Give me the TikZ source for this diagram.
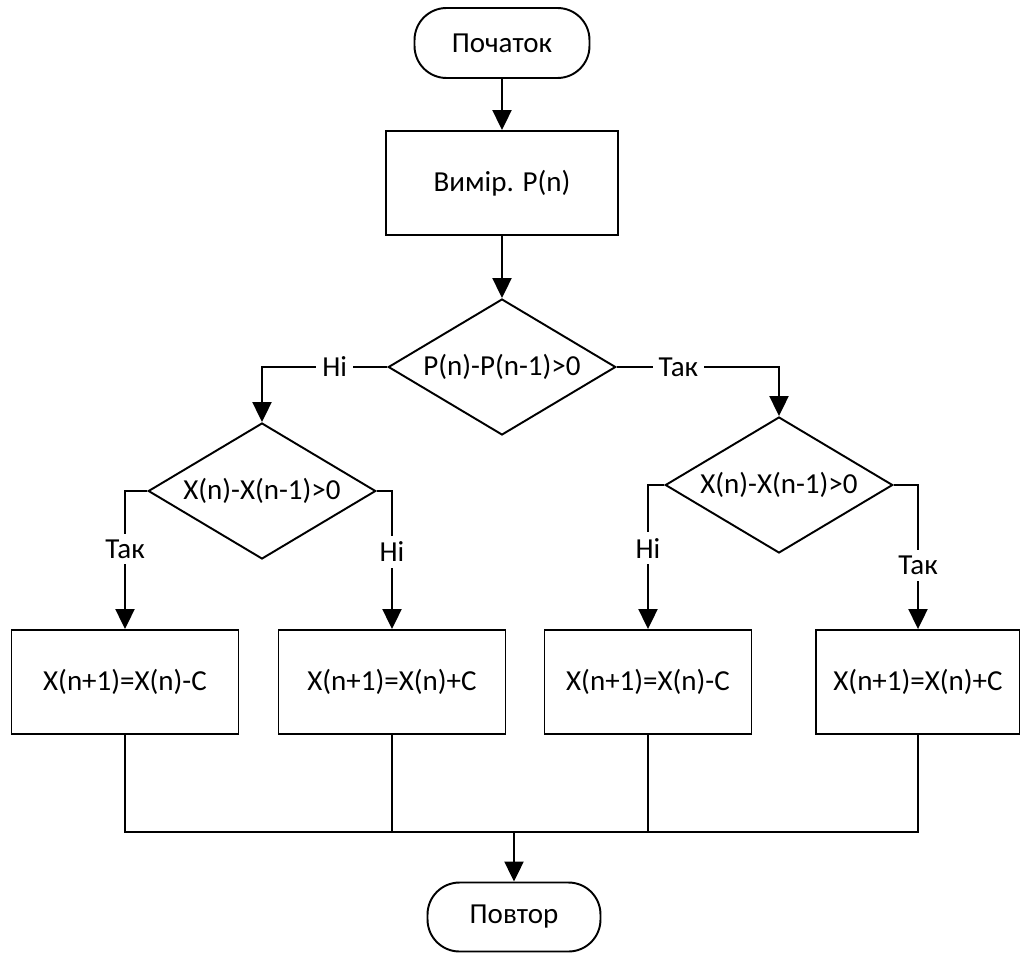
\documentclass[tikz,border=0pt]{standalone}
\usepackage{fontspec}
\setmainfont{Carlito}
\usetikzlibrary{arrows.meta,positioning,shapes.geometric}

\begin{document}
\begin{tikzpicture}[x=0.02cm,y=-0.02cm,
    every node/.style={font=\fontsize{16.5}{19}\selectfont},
    term/.style={draw,line width=1.1pt,rounded corners=0.64cm,minimum width=3.5cm,minimum height=1.4cm},
    proc/.style={draw,line width=1.1pt,minimum height=2.08cm},
    cond/.style={draw,diamond,aspect=1.68,line width=1.1pt,inner sep=0pt,minimum width=4.55cm,minimum height=2.72cm},
    lbl/.style={fill=white,inner sep=0.12cm},
    arr/.style={line width=1.2pt,-{Triangle[length=0.4cm,width=0.38cm]}},
    con/.style={line width=1.2pt}]
  \useasboundingbox (0,0) rectangle (1020,953);
  % Top
  \node[term] (start) at (502,43) {Початок};
  \node[proc,minimum width=4.64cm] (meas) at (502,183) {Вимір. P(n)};
  \node[cond] (cmpP) at (502,367) {P(n)-P(n-1)>0};
  \draw[arr] (start) -- (meas);
  \draw[arr] (meas) -- (cmpP);
  % Second level
  \node[cond] (cmpL) at (262,491) {X(n)-X(n-1)>0};
  \node[cond] (cmpR) at (779,485) {X(n)-X(n-1)>0};
  \draw[arr] (cmpP.west) -| node[lbl,pos=0.21] {Ні} (cmpL.north);
  \draw[arr] (cmpP.east) -| node[lbl,pos=0.19] {Так} (cmpR.north);
  % Updates
  \node[proc,minimum width=4.54cm] (decL) at (125,682) {X(n+1)=X(n)-C};
  \node[proc,minimum width=4.54cm] (incL) at (392,682) {X(n+1)=X(n)+C};
  \node[proc,minimum width=4.14cm] (decR) at (648,682) {X(n+1)=X(n)-C};
  \node[proc,minimum width=4.08cm] (incR) at (918,682) {X(n+1)=X(n)+C};
  \draw[arr] (cmpL.west) -| node[lbl,pos=0.71,inner xsep=0pt] {Так} (decL.north);
  \draw[arr] (cmpL.east) -| node[lbl,pos=0.72,inner xsep=0pt] {Ні} (incL.north);
  \draw[arr] (cmpR.west) -| node[lbl,pos=0.72,inner xsep=0pt] {Ні} (decR.north);
  \draw[arr] (cmpR.east) -| node[lbl,pos=0.78,inner xsep=0pt] {Так} (incR.north);
  % Merge
  \node[term,minimum width=3.46cm,minimum height=1.38cm] (stop) at (514,917) {Повтор};
  \coordinate (jn) at (514,832);
  \draw[con] (decL.south) |- (jn) -| (incR.south);
  \draw[con] (incL.south) -- (incL.south |- jn);
  \draw[con] (decR.south) -- (decR.south |- jn);
  \draw[arr] (jn) -- (stop);
\end{tikzpicture}
\end{document}
